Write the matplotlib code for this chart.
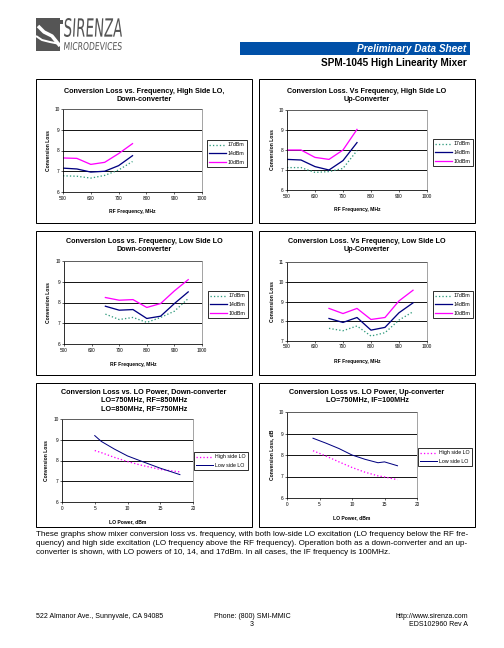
import numpy as np
import matplotlib
matplotlib.use('Agg')
import matplotlib.pyplot as plt
from matplotlib.patches import Rectangle, PathPatch
from matplotlib.textpath import TextPath
from matplotlib.font_manager import FontProperties
from matplotlib.transforms import Affine2D

plt.rcParams['font.family'] = ['Liberation Sans', 'DejaVu Sans']

# ---- data ----
freq_hi = [500, 550, 600, 650, 700, 750]
hs_dn_17 = [6.78, 6.76, 6.67, 6.80, 7.06, 7.47]
hs_dn_14 = [7.15, 7.11, 6.96, 7.00, 7.27, 7.75]
hs_dn_10 = [7.64, 7.62, 7.33, 7.43, 7.85, 8.33]

hs_up_17 = [7.12, 7.12, 6.88, 6.92, 7.08, 7.97]
hs_up_14 = [7.53, 7.50, 7.17, 7.00, 7.47, 8.37]
hs_up_10 = [8.00, 8.00, 7.63, 7.53, 8.00, 9.03]

freq_lo = [650, 700, 750, 800, 850, 900, 950]
ls_dn_17 = [7.44, 7.18, 7.28, 7.04, 7.28, 7.58, 8.19]
ls_dn_14 = [7.82, 7.63, 7.66, 7.23, 7.34, 7.95, 8.51]
ls_dn_10 = [8.24, 8.11, 8.14, 7.76, 7.95, 8.56, 9.10]

ls_up_17 = [7.64, 7.52, 7.76, 7.25, 7.42, 8.06, 8.48]
ls_up_14 = [8.14, 7.94, 8.19, 7.55, 7.69, 8.43, 8.93]
ls_up_10 = [8.65, 8.39, 8.65, 8.09, 8.19, 9.03, 9.57]

lo_pwr_dn = [5, 6, 8, 10, 12, 15, 18]
dn_high = [8.48, 8.38, 8.15, 7.95, 7.78, 7.57, 7.45]
dn_low = [9.20, 8.92, 8.55, 8.22, 7.98, 7.63, 7.32]

lo_pwr_up = [4, 6, 8, 10, 12, 14, 15, 17]
up_high = [8.20, 7.95, 7.68, 7.42, 7.20, 7.03, 6.98, 6.85]
up_low = [8.78, 8.55, 8.30, 8.00, 7.80, 7.64, 7.68, 7.50]

pwr_labels = ['17dBm', '14dBm', '10dBm']
lo_labels = ['High side LO', 'Low side LO']

TEAL = '#2f9a7c'
NAVY = '#000080'
MAG = '#ff00ff'

W, H = 504, 648
fig = plt.figure(figsize=(W / 72, H / 72), dpi=72)


def rect(l, t, r, b):
    return [l / W, 1 - b / H, (r - l) / W, (b - t) / H]


def ftext(x, y, s, **kw):
    fig.text(x / W, 1 - y / H, s, **kw)


def chart(box, plot, leg, title, title_y, xs, series, styles, labels,
          xlim, xticks, ylim, xlabel, ylabel):
    l, t, r, b = box
    fig.patches.append(Rectangle((l / W, 1 - b / H), (r - l) / W, (b - t) / H,
                                 fill=False, lw=1.0, ec='black',
                                 transform=fig.transFigure))
    ftext((l + r) / 2, title_y, title, ha='center', va='top', fontsize=7.3,
          fontweight='bold', linespacing=1.25)
    ax = fig.add_axes(rect(*plot))
    handles = []
    for ys, (c, ls, lw), lab in zip(series, styles, labels):
        h, = ax.plot(xs, ys, color=c, ls=ls, lw=lw, label=lab)
        handles.append(h)
    ax.set_xlim(*xlim)
    ax.set_ylim(*ylim)
    ax.set_xticks(xticks)
    ax.set_yticks(range(ylim[0], ylim[1] + 1))
    ax.yaxis.grid(True, color='black', lw=0.9)
    ax.set_axisbelow(True)
    ax.tick_params(labelsize=4.8, length=2, width=0.6, pad=1.5)
    for s in ['top', 'right']:
        ax.spines[s].set_color('#808080')
        ax.spines[s].set_linewidth(0.7)
    for s in ['left', 'bottom']:
        ax.spines[s].set_linewidth(0.8)
    pl, pt, pr, pb = plot
    ftext((pl + pr) / 2, pb + 20, xlabel, ha='center', va='center',
          fontsize=5, fontweight='bold')
    ftext(pl - 15, (pt + pb) / 2, ylabel, ha='center', va='center',
          fontsize=5, fontweight='bold', rotation=90)
    ll, lt, lr, lb = leg
    lg = ax.legend(handles=handles, loc='upper left',
                   bbox_to_anchor=(ll / W, 1 - lt / H),
                   bbox_transform=fig.transFigure, borderaxespad=0,
                   fontsize=5.2, frameon=True, fancybox=False, framealpha=1,
                   edgecolor='black', handlelength=3.2, handletextpad=0.3,
                   labelspacing=0.7, borderpad=0.45)
    lg.get_frame().set_linewidth(0.8)
    return ax


st3 = [(TEAL, ':', 1.3), (NAVY, '-', 1.3), (MAG, '-', 1.3)]
st2 = [(MAG, ':', 1.3), (NAVY, '-', 1.0)]

chart((36, 79, 252, 223), (63, 109, 202, 192), (207, 140, 248, 170),
      'Conversion Loss vs. Frequency, High Side LO,\nDown-converter', 88,
      freq_hi, [hs_dn_17, hs_dn_14, hs_dn_10], st3, pwr_labels,
      (500, 1000), range(500, 1001, 100), (6, 10),
      'RF Frequency, MHz', 'Conversion Loss')

chart((259, 79, 475, 223), (287, 110, 427, 190), (433, 139, 473, 169),
      'Conversion Loss. Vs Frequency, High Side LO\nUp-Converter', 88,
      freq_hi, [hs_up_17, hs_up_14, hs_up_10], st3, pwr_labels,
      (500, 1000), range(500, 1001, 100), (6, 10),
      'RF Frequency, MHz', 'Conversion Loss')

chart((36, 231, 252, 375), (64, 261, 202, 344), (208, 291, 248, 319),
      'Conversion Loss vs. Frequency, Low Side LO\nDown-converter', 238,
      freq_lo, [ls_dn_17, ls_dn_14, ls_dn_10], st3, pwr_labels,
      (500, 1000), range(500, 1001, 100), (6, 10),
      'RF Frequency, MHz', 'Conversion Loss')

chart((259, 231, 475, 375), (287, 262, 427, 341), (433, 291, 473, 319),
      'Conversion Loss. Vs Frequency, Low Side LO\nUp-Converter', 238,
      freq_lo, [ls_up_17, ls_up_14, ls_up_10], st3, pwr_labels,
      (500, 1000), range(500, 1001, 100), (7, 11),
      'RF Frequency, MHz', 'Conversion Loss')

chart((36, 383, 252, 527), (62, 419, 193, 502), (194, 452, 248, 468),
      'Conversion Loss vs. LO Power, Down-converter\nLO=750MHz, RF=850MHz\nLO=850MHz, RF=750MHz', 389,
      lo_pwr_dn, [dn_high, dn_low], st2, lo_labels,
      (0, 20), range(0, 21, 5), (6, 10),
      'LO Power, dBm', 'Conversion Loss')

chart((259, 383, 475, 527), (287, 412, 417, 498), (418, 448, 472, 469),
      'Conversion Loss vs. LO Power, Up-converter\nLO=750MHz, IF=100MHz', 389,
      lo_pwr_up, [up_high, up_low], st2, lo_labels,
      (0, 20), range(0, 21, 5), (6, 10),
      'LO Power, dBm', 'Conversion Loss, dB')

# ---- header ----
over = fig.add_axes([0, 0, 1, 1], zorder=-1)
over.set_xlim(0, W)
over.set_ylim(H, 0)
over.axis('off')

over.add_patch(Rectangle((240, 42), 230, 13, color='#0050a8', lw=0))
over.text(466, 49, 'Preliminary Data Sheet', color='white', fontsize=10,
          fontweight='bold', style='italic', ha='right', va='center')
over.text(467, 63.5, 'SPM-1045 High Linearity Mixer', fontsize=10,
          fontweight='bold', ha='right', va='center')


def fit_text(s, x0, y0, x1, y1, skew=0):
    tp = TextPath((0, 0), s, size=10,
                  prop=FontProperties(family='DejaVu Sans'))
    bb = tp.get_extents()
    tr = (Affine2D().translate(-bb.x0, -bb.y0)
          .skew_deg(skew, 0)
          .scale((x1 - x0) / (bb.width + bb.height * np.tan(np.radians(skew))),
                 -(y1 - y0) / bb.height)
          .translate(x0, y1))
    over.add_patch(PathPatch(tr.transform_path(tp), color='#555555', lw=0))


# logo: grey block with white swoosh plus condensed lettering
over.add_patch(Rectangle((36, 18), 24, 33, color='#555555', lw=0))
over.add_patch(Rectangle((55, 20), 8, 4, color='#555555', lw=0))
over.plot([38, 44, 52, 60], [26, 32, 36, 46], color='white', lw=3.5,
          solid_capstyle='butt')
over.plot([36, 42, 50, 60], [36, 40, 42, 44], color='white', lw=2.0,
          solid_capstyle='butt')
fit_text('SIRENZA', 64, 18, 123, 37, skew=6)
fit_text('MICRODEVICES', 64, 42, 122, 50, skew=6)

# ---- body text ----
para = ('These graphs show mixer conversion loss vs. frequency, with both low-side LO excitation (LO frequency below the RF fre-\n'
        'quency) and high side excitation (LO frequency above the RF frequency). Operation both as a down-converter and an up-\n'
        'converter is shown, with LO powers of 10, 14, and 17dBm. In all cases, the IF frequency is 100MHz.')
over.text(36, 531, para, fontsize=8.0, ha='left', va='top', linespacing=1.4)

over.text(36, 617, '522 Almanor Ave., Sunnyvale, CA 94085', fontsize=7,
          ha='left', va='center')
over.text(252, 613.5, 'Phone: (800) SMI-MMIC\n3', fontsize=7, ha='center',
          va='top', linespacing=1.0)
over.text(468, 613.5, 'http://www.sirenza.com\nEDS102960 Rev A', fontsize=7,
          ha='right', va='top', linespacing=1.0)

fig.savefig('out.png', dpi=72)
